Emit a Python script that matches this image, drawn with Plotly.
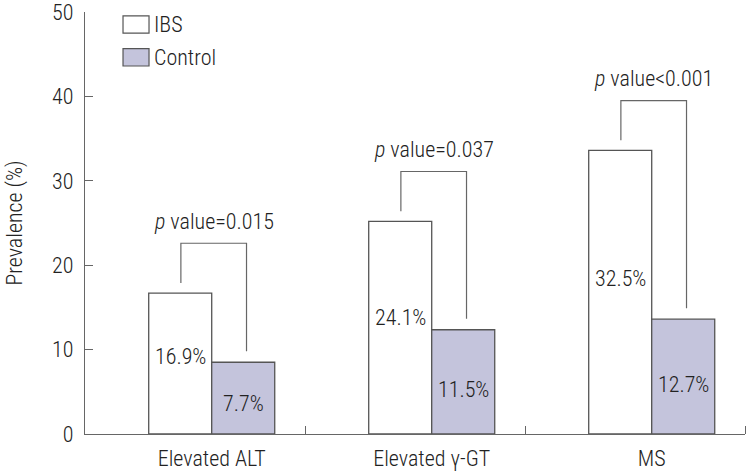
import plotly.graph_objects as go

# ---- data ----
categories = ["Elevated ALT", "Elevated \u03b3-GT", "MS"]
ibs_values = [16.7, 25.2, 33.6]
control_values = [8.5, 12.35, 13.6]
ibs_labels = ["16.9%", "24.1%", "32.5%"]
control_labels = ["7.7%", "11.5%", "12.7%"]
p_labels = ["<i>p</i> value=0.015", "<i>p</i> value=0.037", "<i>p</i> value<0.001"]
y_ticks = [0, 10, 20, 30, 40, 50]

# ---- style ----
FONT = "Roboto Condensed, Liberation Sans Narrow, Roboto, sans-serif"
FS = 22
W = 300
TXT = "#222222"
EDGE = "#555555"
CTRL_FILL = "#c4c4dc"
BW = 0.2864
pos = list(range(len(categories)))


def f(size=FS):
    return dict(family=FONT, size=size, color=TXT, weight=W)


fig = go.Figure()
fig.add_trace(go.Bar(x=pos, y=ibs_values, name="IBS", offset=-BW, width=BW,
                     marker=dict(color="white", line=dict(color=EDGE, width=1.3)),
                     hoverinfo="skip"))
fig.add_trace(go.Bar(x=pos, y=control_values, name="Control", offset=0, width=BW,
                     marker=dict(color=CTRL_FILL, line=dict(color=EDGE, width=1.3)),
                     hoverinfo="skip"))

shapes = []
annotations = []
for i, (a, b) in enumerate(zip(ibs_values, control_values)):
    xl = i - BW / 2 + 0.003
    xr = i + BW / 2 + 0.015
    top = max(a, b) + 5.9
    line = dict(color="#666666", width=1.2)
    shapes.append(dict(type="path", xref="x", yref="y",
                       path=f"M{xl},{a + 1.2} L{xl},{top} L{xr},{top} L{xr},{b + 1.3}",
                       line=line))
    annotations.append(dict(x=i + 0.01, y=top, xref="x", yref="y", text=p_labels[i],
                            showarrow=False, yanchor="middle", yshift=22, font=f()))
    annotations.append(dict(x=i - BW / 2, y=a * 0.55, xref="x", yref="y", text=ibs_labels[i],
                            showarrow=False, font=f()))
    annotations.append(dict(x=i + BW / 2, y=b * 0.43, xref="x", yref="y", text=control_labels[i],
                            showarrow=False, font=f()))

# manual legend (larger swatches, like the original)
legend_items = [("IBS", "white"), ("Control", CTRL_FILL)]
for k, (name, col) in enumerate(legend_items):
    y0 = 0.950 - k * 0.078
    y1 = y0 + 0.041
    shapes.append(dict(type="rect", xref="paper", yref="paper", x0=0.0576, x1=0.097,
                       y0=y0, y1=y1, fillcolor=col, line=dict(color=EDGE, width=1.2)))
    annotations.append(dict(x=0.102, y=(y0 + y1) / 2, xref="paper", yref="paper", text=name,
                            showarrow=False, xanchor="left", yanchor="middle", font=f()))

fig.update_layout(
    width=750, height=472,
    margin=dict(l=85, r=5, t=12, b=38, autoexpand=False),
    plot_bgcolor="white", paper_bgcolor="white",
    showlegend=False,
    barmode="overlay",
    font=f(),
    shapes=shapes, annotations=annotations,
    xaxis=dict(range=[-0.576, 2.424], tickvals=pos, ticktext=categories,
               ticks="", showgrid=False, zeroline=False,
               showline=True, linecolor="#666666", linewidth=1.2,
               ticklabelstandoff=4, tickfont=f(),
               minor=dict(tickvals=[0.424, 1.424, 2.424], ticks="inside", ticklen=8,
                          tickcolor="#666666", tickwidth=1.2, showgrid=False)),
    yaxis=dict(range=[0, 50], tickvals=y_ticks, ticks="inside", ticklen=8,
               tickcolor="#666666", tickwidth=1.2, showgrid=False, zeroline=False,
               showline=True, linecolor="#666666", linewidth=1.2,
               ticklabelstandoff=6, ticklabeloverflow="allow",
               tickfont=f(),
               title=dict(text="Prevalence (%)", standoff=23, font=f())),
)

fig.write_html("out.html", config={"displayModeBar": False},
               post_script="document.body.style.margin='0';document.body.style.overflow='hidden';")
